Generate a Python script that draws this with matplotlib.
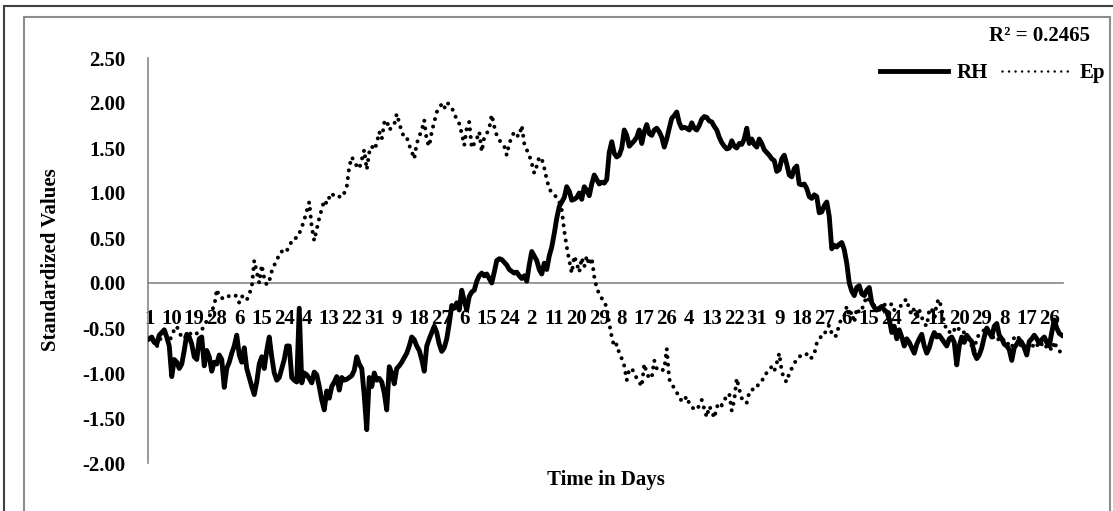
import matplotlib
matplotlib.use("Agg")
import matplotlib.pyplot as plt
import numpy as np
from matplotlib.lines import Line2D
from matplotlib.patches import Rectangle
from matplotlib.ticker import FormatStrFormatter

plt.rcParams['font.family'] = ['Liberation Serif', 'DejaVu Serif']
plt.rcParams['font.weight'] = 'bold'
plt.rcParams['font.size'] = 15

# day-of-month labels, one every 9 days over a leap year (366 days)
tick_labels = ['1', '10', '19', '28', '6', '15', '24', '4', '13', '22', '31',
               '9', '18', '27', '6', '15', '24', '2', '11', '20', '29', '8',
               '17', '26', '4', '13', '22', '31', '9', '18', '27', '6', '15',
               '24', '2', '11', '20', '29', '8', '17', '26']

rh = [
    -0.62, -0.60, -0.66, -0.68, -0.58, -0.55, -0.52, -0.60, -0.70, -1.04,
    -0.85, -0.88, -0.95, -0.90, -0.75, -0.57, -0.60, -0.68, -0.82, -0.85,
    -0.62, -0.60, -0.92, -0.75, -0.82, -0.98, -0.88, -0.90, -0.80, -0.85,
    -1.16, -0.95, -0.88, -0.78, -0.70, -0.58, -0.80, -0.88, -0.72, -0.95,
    -1.05, -1.15, -1.24, -1.10, -0.90, -0.82, -0.95, -0.75, -0.60, -0.82,
    -1.00, -1.08, -1.05, -0.95, -0.85, -0.70, -0.70, -1.05, -1.08, -1.10,
    -0.28, -1.11, -1.00, -1.02, -1.06, -1.11, -0.99, -1.02, -1.15, -1.30,
    -1.41, -1.20, -1.28, -1.15, -1.10, -1.04, -1.19, -1.05, -1.08, -1.07,
    -1.05, -1.03, -0.97, -0.82, -0.90, -0.95, -1.25, -1.63, -1.05, -1.15,
    -1.00, -1.08, -1.06, -1.10, -1.22, -1.41, -0.93, -1.00, -1.12, -0.95,
    -0.92, -0.88, -0.83, -0.78, -0.70, -0.60, -0.63, -0.70, -0.75, -0.85,
    -0.98, -0.70, -0.62, -0.55, -0.48, -0.55, -0.68, -0.76, -0.72, -0.62,
    -0.45, -0.25, -0.28, -0.22, -0.30, -0.08, -0.20, -0.30, -0.15, -0.10,
    -0.08, 0.02, 0.08, 0.11, 0.08, 0.10, 0.05, 0.00, 0.12, 0.25,
    0.27, 0.26, 0.23, 0.20, 0.15, 0.13, 0.11, 0.12, 0.08, 0.05,
    0.08, 0.02, 0.20, 0.35, 0.30, 0.25, 0.15, 0.10, 0.22, 0.15,
    0.30, 0.40, 0.55, 0.72, 0.85, 0.90, 0.95, 1.07, 1.02, 0.92,
    0.93, 0.95, 1.00, 0.93, 1.07, 1.03, 0.97, 1.10, 1.20, 1.15,
    1.10, 1.12, 1.11, 1.15, 1.45, 1.57, 1.44, 1.40, 1.42, 1.50,
    1.70, 1.64, 1.52, 1.55, 1.58, 1.62, 1.70, 1.55, 1.68, 1.76,
    1.66, 1.64, 1.70, 1.72, 1.68, 1.62, 1.51, 1.60, 1.72, 1.83,
    1.86, 1.90, 1.78, 1.72, 1.73, 1.72, 1.70, 1.78, 1.72, 1.70,
    1.75, 1.82, 1.85, 1.84, 1.80, 1.79, 1.74, 1.70, 1.62, 1.56,
    1.52, 1.49, 1.50, 1.58, 1.52, 1.50, 1.55, 1.54, 1.60, 1.72,
    1.55, 1.60, 1.54, 1.51, 1.60, 1.55, 1.48, 1.45, 1.42, 1.38,
    1.36, 1.24, 1.26, 1.38, 1.42, 1.32, 1.20, 1.18, 1.27, 1.30,
    1.10, 1.09, 1.10, 1.05, 0.96, 0.94, 0.98, 0.96, 0.78, 0.79,
    0.86, 0.90, 0.74, 0.38, 0.42, 0.40, 0.43, 0.45, 0.37, 0.22,
    0.00, -0.09, -0.14, -0.05, -0.03, -0.12, -0.14, -0.08, -0.05, -0.22,
    -0.27, -0.30, -0.28, -0.26, -0.30, -0.32, -0.40, -0.55, -0.48, -0.62,
    -0.52, -0.60, -0.70, -0.62, -0.66, -0.72, -0.78, -0.68, -0.62, -0.57,
    -0.70, -0.78, -0.72, -0.62, -0.55, -0.60, -0.58, -0.62, -0.66, -0.70,
    -0.62, -0.60, -0.66, -0.91, -0.70, -0.60, -0.66, -0.58, -0.62, -0.65,
    -0.78, -0.84, -0.80, -0.72, -0.60, -0.50, -0.55, -0.60, -0.48, -0.45,
    -0.58, -0.62, -0.68, -0.70, -0.74, -0.86, -0.72, -0.68, -0.63, -0.66,
    -0.72, -0.80, -0.65, -0.62, -0.58, -0.62, -0.67, -0.63, -0.60, -0.66,
    -0.70, -0.55, -0.41, -0.50, -0.56, -0.58,
]

ep = [
    -0.62, -0.60, -0.68, -0.71, -0.64, -0.60, -0.55, -0.62, -0.66, -0.58,
    -0.52, -0.48, -0.55, -0.60, -0.62, -0.57, -0.55, -0.58, -0.56, -0.56,
    -0.53, -0.52, -0.48, -0.42, -0.38, -0.30, -0.26, -0.07, -0.15, -0.17,
    -0.16, -0.17, -0.14, -0.14, -0.13, -0.15, -0.22, -0.15, -0.15, -0.19,
    -0.12, -0.05, 0.25, 0.12, 0.00, 0.20, 0.05, -0.02, 0.02, 0.13,
    0.20, 0.24, 0.33, 0.35, 0.33, 0.36, 0.40, 0.47, 0.50, 0.50,
    0.55, 0.62, 0.70, 0.80, 0.90, 0.62, 0.47, 0.60, 0.72, 0.82,
    0.92, 0.88, 0.95, 1.00, 0.96, 0.95, 0.96, 0.95, 1.00, 1.07,
    1.29, 1.40, 1.35, 1.30, 1.27, 1.37, 1.48, 1.26, 1.45, 1.52,
    1.48, 1.55, 1.68, 1.60, 1.78, 1.81, 1.70, 1.73, 1.76, 1.88,
    1.78, 1.68, 1.62, 1.62, 1.53, 1.46, 1.38, 1.55, 1.63, 1.70,
    1.81, 1.58, 1.52, 1.68, 1.79, 1.90, 1.94, 1.99, 1.94, 2.01,
    1.98, 1.95, 1.88, 1.82, 1.77, 1.66, 1.53, 1.72, 1.79, 1.50,
    1.55, 1.60, 1.68, 1.46, 1.62, 1.66, 1.72, 1.87, 1.74, 1.64,
    1.59, 1.55, 1.52, 1.42, 1.55, 1.62, 1.68, 1.64, 1.63, 1.75,
    1.55, 1.48, 1.42, 1.33, 1.22, 1.30, 1.40, 1.38, 1.28, 1.15,
    1.05, 1.00, 0.98, 0.95, 0.90, 0.81, 0.58, 0.40, 0.25, 0.11,
    0.30, 0.22, 0.12, 0.28, 0.18, 0.30, 0.20, 0.28, 0.07, -0.06,
    -0.12, -0.17, -0.20, -0.28, -0.45, -0.60, -0.71, -0.68, -0.78, -0.84,
    -0.92, -1.08, -0.96, -0.95, -1.00, -1.06, -1.10, -1.15, -0.90, -1.00,
    -1.06, -1.05, -0.86, -0.95, -0.98, -0.97, -0.96, -0.73, -1.07, -1.12,
    -1.17, -1.22, -1.25, -1.32, -1.30, -1.26, -1.34, -1.38, -1.40, -1.41,
    -1.36, -1.30, -1.40, -1.49, -1.37, -1.42, -1.50, -1.38, -1.33, -1.36,
    -1.30, -1.26, -1.23, -1.42, -1.30, -1.06, -1.18, -1.28, -1.33, -1.33,
    -1.22, -1.18, -1.19, -1.15, -1.12, -1.10, -1.02, -1.00, -0.96, -0.93,
    -0.98, -0.89, -0.78, -0.98, -1.07, -1.10, -1.00, -0.95, -0.90, -0.84,
    -0.82, -0.80, -0.81, -0.79, -0.84, -0.83, -0.79, -0.67, -0.63, -0.58,
    -0.58, -0.50, -0.47, -0.56, -0.60, -0.58, -0.45, -0.40, -0.37, -0.26,
    -0.37, -0.32, -0.44, -0.28, -0.33, -0.30, -0.22, -0.15, -0.20, -0.23,
    -0.25, -0.27, -0.30, -0.26, -0.24, -0.25, -0.26, -0.23, -0.30, -0.28,
    -0.26, -0.25, -0.20, -0.18, -0.30, -0.35, -0.28, -0.40, -0.30, -0.38,
    -0.45, -0.48, -0.30, -0.28, -0.42, -0.22, -0.18, -0.30, -0.45, -0.52,
    -0.55, -0.50, -0.52, -0.55, -0.50, -0.54, -0.55, -0.58, -0.62, -0.70,
    -0.76, -0.60, -0.58, -0.55, -0.52, -0.50, -0.55, -0.58, -0.62, -0.60,
    -0.64, -0.66, -0.62, -0.65, -0.70, -0.72, -0.60, -0.58, -0.62, -0.73,
    -0.68, -0.66, -0.70, -0.73, -0.66, -0.68, -0.72, -0.68, -0.66, -0.72,
    -0.70, -0.75, -0.65, -0.72, -0.74, -0.82,
]

days = np.arange(len(rh))
W, H = 1113, 511

fig = plt.figure(figsize=(W / 100, H / 100), dpi=100)
ax = fig.add_axes([148 / W, 1 - 463 / H, 915 / W, 405 / H])

l_rh, = ax.plot(days, rh, color='black', lw=3.5, solid_joinstyle='round', zorder=3)
ax.plot(days, ep, color='black', lw=2.9, linestyle=(0, (0.01, 1.9)),
        dash_capstyle='round', zorder=3)

ax.set_xlim(-0.5, len(rh) - 0.5)
ax.set_ylim(-2.0, 2.5)
ax.set_yticks(np.arange(-2.0, 2.51, 0.5))
ax.yaxis.set_major_formatter(FormatStrFormatter('%.2f'))
ax.set_xticks(days[::9])
ax.set_xticklabels(tick_labels, fontsize=16)
ax.tick_params(axis='y', length=0, pad=16)
ax.tick_params(axis='x', length=0, pad=19)

grey = '#868686'
ax.spines['bottom'].set_position(('data', 0))
for s in ['bottom', 'left']:
    ax.spines[s].set_color(grey)
    ax.spines[s].set_linewidth(1.2)
ax.spines['top'].set_visible(False)
ax.spines['right'].set_visible(False)

fig.text(51 / W, 1 - 260 / H, 'Standardized Values', rotation=90,
         ha='center', va='center')
fig.text(606 / W, 1 - 480 / H, 'Time in Days', ha='center', va='center')
fig.text(1090 / W, 1 - 36 / H, 'R² = 0.2465', ha='right', va='center')

# legend key for Ep uses finer dots, as in the original
ep_key = Line2D([], [], color='black', lw=1.8, linestyle=(0, (0.01, 2.6)),
                dash_capstyle='round')
ax.legend([l_rh, ep_key], ['RH', 'Ep'], ncol=2, frameon=False, loc='center right',
          bbox_to_anchor=(1105 / W, 1 - 73 / H), bbox_transform=fig.transFigure,
          handlelength=3.27, handletextpad=0.43, columnspacing=0.67,
          borderpad=0, borderaxespad=0)

# chart frames
fig.add_artist(Rectangle((4 / W, -0.1), 2, 1.1 - 6 / H, fill=False,
                         ec='#404040', lw=1.5, transform=fig.transFigure))
fig.add_artist(Rectangle((24 / W, -0.1), (1110 - 24) / W, 1.1 - 17 / H, fill=False,
                         ec='#8c8c8c', lw=1.5, transform=fig.transFigure))

fig.savefig('out.png', dpi=100)
